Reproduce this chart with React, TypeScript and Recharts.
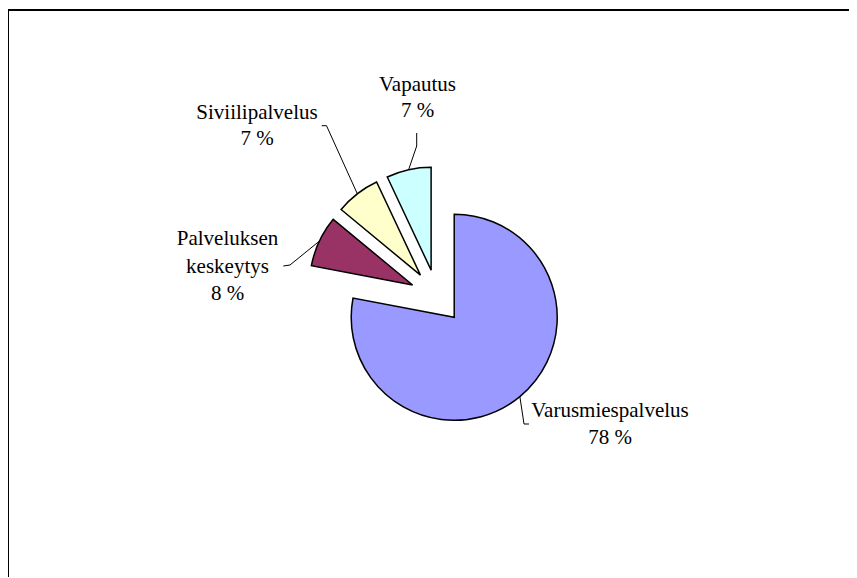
import React from 'react';
import { PieChart, Pie, Cell } from 'recharts';

const categories = ['Varusmiespalvelus', 'Palveluksen keskeytys', 'Siviilipalvelus', 'Vapautus'];
const values = [78, 8, 7, 7];
const labelTexts = [['Varusmiespalvelus'], ['Palveluksen', 'keskeytys'], ['Siviilipalvelus'], ['Vapautus']];
const colors = ['#9999FF', '#993366', '#FFFFCC', '#CCFFFF'];

const data = categories.map((name, i) => ({ name, value: values[i] }));

const W = 848;
const H = 567;
const CX = 428;
const CY = 285.5;
const R = 103;
const EXPLODE = 27;
const FONT = '"Liberation Serif", "Times New Roman", serif';

const labelLayout = [
  { x: 601, y: 405.7, dy: 27.3, path: [[515, 413], [520, 413]] },
  { x: 218.5, y: 234, dy: 27.5, path: [[281, 254], [274.3, 255]] },
  { x: 248, y: 108, dy: 26, path: [[317.5, 114.7], [312.7, 114.7]] },
  { x: 408.5, y: 80, dy: 26, path: [[407.7, 135], [407.7, 122]] },
];

const total = values.reduce((a, b) => a + b, 0);
const midFractions = values.map(
  (v, i) => (values.slice(0, i).reduce((a, b) => a + b, 0) + v / 2) / total
);

const makeLabel = (target: number) => (props: any) => {
  if (props.index !== target) return null;
  const { cx, cy, midAngle, outerRadius, percent } = props;
  const rad = (-midAngle * Math.PI) / 180;
  const sx = cx + outerRadius * Math.cos(rad);
  const sy = cy + outerRadius * Math.sin(rad);
  const L = labelLayout[target];
  const pts = [[sx, sy], ...L.path].map((p) => `${p[0]},${p[1]}`).join(' ');
  const lines = [...labelTexts[target], `${Math.round(percent * 100)} %`];
  return (
    <g key={`lbl-${target}`}>
      <polyline points={pts} fill="none" stroke="#000" strokeWidth={1} />
      <text textAnchor="middle" fontFamily={FONT} fontSize={21} fill="#000">
        {lines.map((l, k) => (
          <tspan key={k} x={L.x} y={L.y + k * L.dy}>
            {l}
          </tspan>
        ))}
      </text>
    </g>
  );
};

export default function App() {
  return (
    <div
      style={{
        position: 'relative',
        left: -1,
        top: 1,
        width: W,
        height: H,
        borderTop: '2px solid #000',
        borderLeft: '2px solid #000',
        background: '#fff',
      }}
    >
      <PieChart width={W} height={H} margin={{ top: 0, right: 0, bottom: 0, left: 0 }}>
        {categories.map((_, target) => {
          const theta = midFractions[target] * 2 * Math.PI;
          const cx = CX + EXPLODE * Math.sin(theta);
          const cy = CY - EXPLODE * Math.cos(theta);
          return (
            <Pie
              key={target}
              data={data}
              dataKey="value"
              nameKey="name"
              cx={cx}
              cy={cy}
              outerRadius={R}
              innerRadius={0}
              startAngle={90}
              endAngle={-270}
              isAnimationActive={false}
              labelLine={false}
              label={makeLabel(target)}
              legendType="none"
            >
              {data.map((d, i) => (
                <Cell
                  key={d.name}
                  fill={i === target ? colors[i] : 'none'}
                  stroke={i === target ? '#000' : 'none'}
                  strokeWidth={i === target ? 1.5 : 0}
                />
              ))}
            </Pie>
          );
        })}
      </PieChart>
    </div>
  );
}
